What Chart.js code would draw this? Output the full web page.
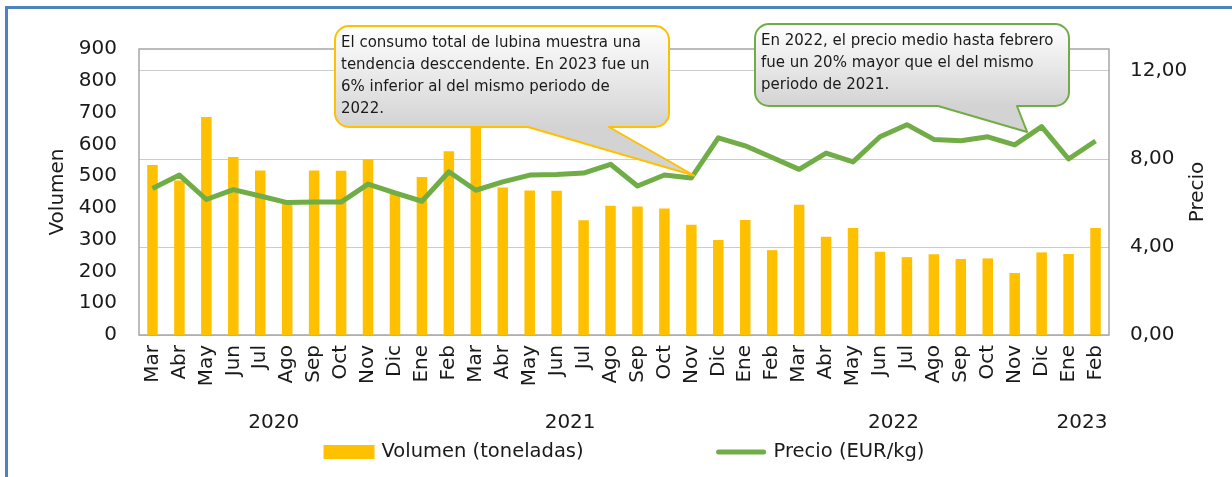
<!DOCTYPE html>
<html lang="es">
<head>
<meta charset="utf-8">
<title>Lubina: volumen y precio</title>
<script src="https://cdn.jsdelivr.net/npm/chart.js@4.4.1/dist/chart.umd.min.js"></script>
<style>
  html, body { margin: 0; padding: 0; background: #fff; }
  #wrap { position: relative; width: 1232px; height: 477px; overflow: hidden; }
  #frame {
    position: absolute; left: 5px; top: 6px; right: -10px; bottom: -10px;
    border-top: 3px solid #4f81bd; border-left: 3px solid #4f81bd;
    pointer-events: none;
  }
</style>
</head>
<body>
<div id="wrap">
  <canvas id="lubinaChart" width="1232" height="477"></canvas>
  <div id="frame"></div>
</div>
<script>
// Consumo de lubina: volumen mensual (barras) y precio medio (linea)
const months = ['Mar', 'Abr', 'May', 'Jun', 'Jul', 'Ago', 'Sep', 'Oct', 'Nov', 'Dic',
    'Ene', 'Feb', 'Mar', 'Abr', 'May', 'Jun', 'Jul', 'Ago', 'Sep', 'Oct', 'Nov', 'Dic',
    'Ene', 'Feb', 'Mar', 'Abr', 'May', 'Jun', 'Jul', 'Ago', 'Sep', 'Oct', 'Nov', 'Dic',
    'Ene', 'Feb'];
const years = ['2020', '2021', '2022', '2023'];
const monthsPerYear = [10, 12, 12, 2];

const volumen = [535, 486, 686, 560, 518, 413, 518, 517, 553, 445,
    497, 578, 690, 464, 455, 454, 361, 407, 404, 398, 347, 299,
    362, 267, 410, 309, 337, 262, 245, 254, 239, 241, 195, 260,
    255, 337];
const precio = [6.66, 7.27, 6.16, 6.61, 6.32, 6.02, 6.05, 6.04, 6.86, 6.46,
    6.08, 7.42, 6.58, 6.96, 7.27, 7.30, 7.36, 7.76, 6.77, 7.27, 7.14, 8.96,
    8.60, 8.07, 7.53, 8.27, 7.87, 9.01, 9.56, 8.89, 8.83, 9.01, 8.64, 9.47,
    8.00, 8.82];
const precioTicks = [0, 4, 8, 12];

const notaVolumen = [
    'El consumo total de lubina muestra una',
    'tendencia desccendente. En 2023 fue un',
    '6% inferior al del mismo periodo de',
    '2022.'
];
const notaPrecio = [
    'En 2022, el precio medio hasta febrero',
    'fue un 20% mayor que el del mismo',
    'periodo de 2021.'
];

const FONT = "'DejaVu Sans', sans-serif";
const TEXT = '#1a1a1a';
const YELLOW = '#ffc000';
const GREEN = '#70ad47';

// centre of each year's group of months, in category index units
const yearCenters = [];
let start = 0;
monthsPerYear.forEach(n => {
    yearCenters.push(start + (n - 1) / 2);
    start += n;
});

// speech-bubble boxes, tip anchored on the x / y2 scales
const callouts = [
    { lines: notaVolumen, color: YELLOW, box: [335, 26, 669, 127], base: [528, 609], tip: { x: 20.1, y: 7.25 } },
    { lines: notaPrecio, color: GREEN, box: [755, 24, 1069, 106], base: [938, 1017], tip: { x: 32.46, y: 9.23 } }
];

const plotFrame = {
    id: 'plotFrame',
    beforeDatasetsDraw(chart) {
        const { ctx, chartArea: a } = chart;
        ctx.save();
        ctx.strokeStyle = '#a6a6a6';
        ctx.lineWidth = 1.5;
        ctx.strokeRect(a.left, a.top, a.right - a.left, a.bottom - a.top);
        ctx.restore();
    }
};

// second row of x labels: one year under each group of months
const yearLabels = {
    id: 'yearLabels',
    afterDraw(chart) {
        const { ctx } = chart;
        const xs = chart.scales.x;
        ctx.save();
        ctx.fillStyle = TEXT;
        ctx.font = '20px ' + FONT;
        ctx.textAlign = 'center';
        ctx.textBaseline = 'middle';
        years.forEach((yr, i) => {
            ctx.fillText(yr, xs.getPixelForValue(yearCenters[i]), xs.top + 88);
        });
        ctx.restore();
    }
};

const calloutBoxes = {
    id: 'calloutBoxes',
    afterDatasetsDraw(chart) {
        const { ctx } = chart;
        const xs = chart.scales.x;
        const ys = chart.scales.y2;
        callouts.forEach(c => {
            const [x0, y0, x1, y1] = c.box;
            const r = 14;
            const tx = xs.getPixelForValue(c.tip.x);
            const ty = ys.getPixelForValue(c.tip.y);

            ctx.save();
            ctx.beginPath();
            ctx.moveTo(x0 + r, y0);
            ctx.lineTo(x1 - r, y0);
            ctx.arcTo(x1, y0, x1, y0 + r, r);
            ctx.lineTo(x1, y1 - r);
            ctx.arcTo(x1, y1, x1 - r, y1, r);
            ctx.lineTo(c.base[1], y1);
            ctx.lineTo(tx, ty);
            ctx.lineTo(c.base[0], y1);
            ctx.lineTo(x0 + r, y1);
            ctx.arcTo(x0, y1, x0, y1 - r, r);
            ctx.lineTo(x0, y0 + r);
            ctx.arcTo(x0, y0, x0 + r, y0, r);
            ctx.closePath();

            const grad = ctx.createLinearGradient(0, y0, 0, y1);
            grad.addColorStop(0, '#ffffff');
            grad.addColorStop(1, '#d3d3d3');
            ctx.fillStyle = grad;
            ctx.fill();
            ctx.strokeStyle = c.color;
            ctx.lineWidth = 2;
            ctx.lineJoin = 'round';
            ctx.stroke();

            ctx.fillStyle = TEXT;
            ctx.font = '15px ' + FONT;
            ctx.textAlign = 'left';
            ctx.textBaseline = 'alphabetic';
            c.lines.forEach((line, i) => {
                ctx.fillText(line, x0 + 6, y0 + 21 + i * 22);
            });
            ctx.restore();
        });
    }
};

const rightTitle = {
    id: 'rightTitle',
    afterDraw(chart) {
        const { ctx, chartArea: a } = chart;
        const s = chart.scales.y2;
        ctx.save();
        ctx.translate(s.right - 24, (a.top + a.bottom) / 2);
        ctx.rotate(-Math.PI / 2);
        ctx.fillStyle = TEXT;
        ctx.font = '20px ' + FONT;
        ctx.textAlign = 'center';
        ctx.textBaseline = 'middle';
        ctx.fillText('Precio', 0, 0);
        ctx.restore();
    }
};

const legendRow = {
    id: 'legendRow',
    afterDraw(chart) {
        const { ctx, chartArea: a } = chart;
        const sets = chart.data.datasets;
        const y = chart.scales.x.bottom + 18;
        const swatch = 51, gap = 7, itemGap = 132;
        ctx.save();
        ctx.font = '19.5px ' + FONT;
        ctx.textBaseline = 'middle';
        ctx.textAlign = 'left';
        const widths = sets.map(d => ctx.measureText(d.label).width);
        const total = widths.reduce((s, w) => s + swatch + gap + w, 0) + itemGap * (sets.length - 1);
        let x = (a.left + a.right) / 2 - total / 2;
        sets.forEach((d, i) => {
            if (d.type === 'line') {
                ctx.strokeStyle = d.borderColor;
                ctx.lineWidth = 5;
                ctx.lineCap = 'round';
                ctx.beginPath();
                ctx.moveTo(x + 3, y);
                ctx.lineTo(x + swatch - 3, y);
                ctx.stroke();
            } else {
                ctx.fillStyle = d.backgroundColor;
                ctx.fillRect(x, y - 7, swatch, 14);
            }
            ctx.fillStyle = TEXT;
            ctx.fillText(d.label, x + swatch + gap, y);
            x += swatch + gap + widths[i] + itemGap;
        });
        ctx.restore();
    }
};

const tickFont = { family: FONT, size: 20 };

new Chart(document.getElementById('lubinaChart'), {
    type: 'bar',
    data: {
        labels: months,
        datasets: [{
            type: 'bar',
            label: 'Volumen (toneladas)',
            data: volumen,
            backgroundColor: YELLOW,
            yAxisID: 'y',
            order: 2,
            barPercentage: 0.39,
            categoryPercentage: 1
        }, {
            type: 'line',
            label: 'Precio (EUR/kg)',
            data: precio,
            borderColor: GREEN,
            backgroundColor: GREEN,
            borderWidth: 5,
            borderJoinStyle: 'round',
            pointRadius: 0,
            tension: 0,
            yAxisID: 'y2',
            order: 1
        }]
    },
    options: {
        responsive: false,
        animation: false,
        layout: { padding: { left: 40, right: 10, top: 49, bottom: 43 } },
        plugins: {
            legend: { display: false },
            tooltip: { enabled: false }
        },
        scales: {
            x: {
                ticks: { color: TEXT, font: tickFont, minRotation: 90, maxRotation: 90, autoSkip: false, padding: 10 },
                grid: { display: false, drawTicks: false },
                border: { display: false },
                afterFit: s => { s.height = 99; }
            },
            y: {
                position: 'left',
                min: 0,
                max: 900,
                ticks: { stepSize: 100, color: TEXT, font: tickFont, padding: 22, autoSkip: false },
                grid: { display: false, drawTicks: false },
                border: { display: false },
                title: { display: true, text: 'Volumen', color: TEXT, font: tickFont, padding: { top: 6, bottom: 0 } },
                afterFit: s => { s.width = 99; }
            },
            y2: {
                position: 'right',
                min: 0,
                max: 13,
                afterBuildTicks: s => { s.ticks = precioTicks.map(v => ({ value: v })); },
                ticks: {
                    callback: v => v.toFixed(2).replace('.', ','),
                    color: TEXT, font: tickFont, padding: 21, autoSkip: false
                },
                grid: { color: '#cccccc', lineWidth: 1, drawTicks: false },
                border: { display: false },
                afterFit: s => { s.width = 113; }
            }
        }
    },
    plugins: [plotFrame, calloutBoxes, yearLabels, rightTitle, legendRow]
});
</script>
</body>
</html>
